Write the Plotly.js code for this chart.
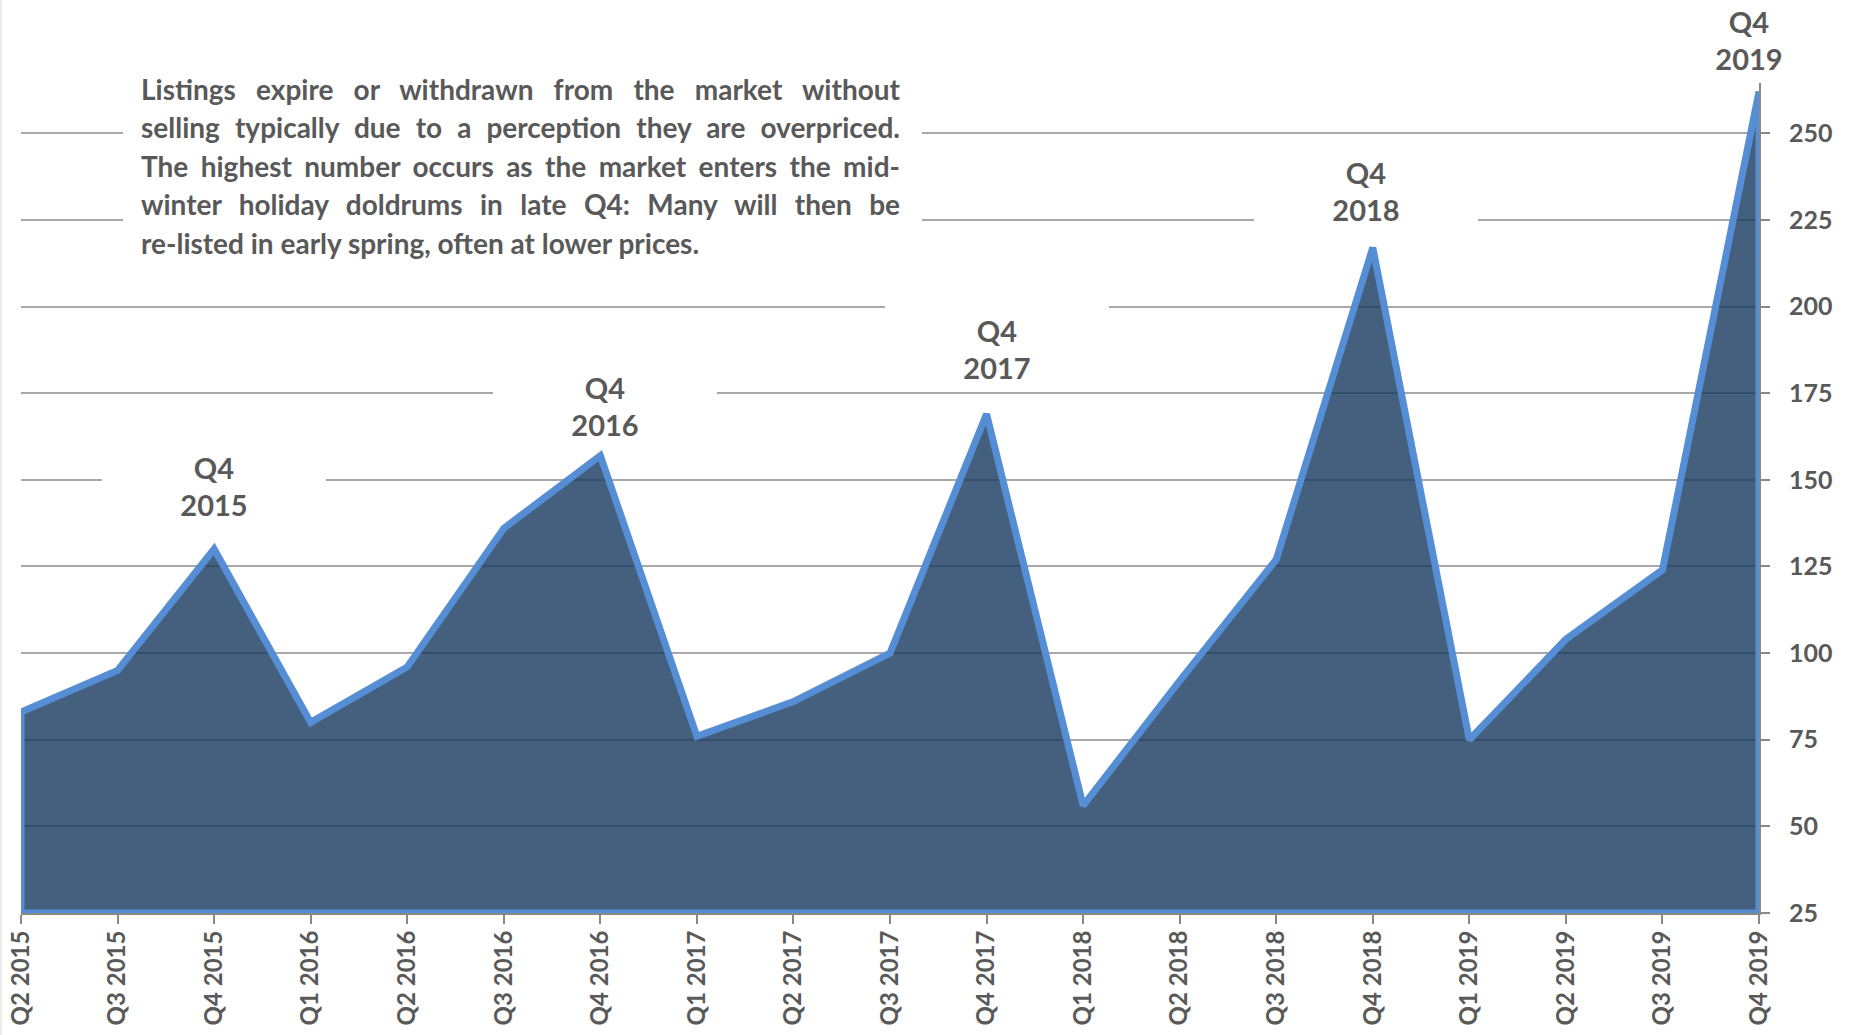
<!DOCTYPE html>
<html>
<head>
<meta charset="utf-8">
<script src="https://cdn.plot.ly/plotly-3.0.1.min.js"></script>
<style>
  html, body { margin: 0; padding: 0; background: #ffffff; }
  #chart { width: 1849px; height: 1035px; }
</style>
</head>
<body>
<div id="chart"></div>
<script>
// ---------- data ----------
const quarters = ['Q2 2015','Q3 2015','Q4 2015','Q1 2016','Q2 2016','Q3 2016','Q4 2016',
                  'Q1 2017','Q2 2017','Q3 2017','Q4 2017','Q1 2018','Q2 2018','Q3 2018',
                  'Q4 2018','Q1 2019','Q2 2019','Q3 2019','Q4 2019'];
const listings = [83, 95, 130, 80, 96, 136, 157, 76, 86, 100, 169, 56, 92, 127, 217, 75, 104, 124, 262];
const yTicks = [25, 50, 75, 100, 125, 150, 175, 200, 225, 250];
const peakLabels = ['Q4 2015','Q4 2016','Q4 2017','Q4 2018','Q4 2019'];
const noteLines = [
  'Listings expire or withdrawn from the market without',
  'selling typically due to a perception they are overpriced.',
  'The highest number occurs as the market enters the mid-',
  'winter holiday doldrums in late Q4: Many will then be',
  're-listed in early spring, often at lower prices.'
];

// ---------- style / geometry ----------
const FONT = 'Lato, "Open Sans", sans-serif';
const GRAY = '#595959';
const L = 21, R = 1759, T = 64, B = 913;
const yMin = 25, yMax = 270;
const px2x = p => (p - L) / (R - L);
const px2y = p => (B - p) / (B - T);
const labelShift = [63, 50, 65, 57, 52];
const labelDx = [0, 5, 10, -7, -10];
const noteCenters = [89, 127.5, 166, 204, 242.5];
const noteLeft = 141, noteWidth = 759;

// closed outline of the area (data + baseline at axis minimum)
const last = quarters.length - 1;
const polyX = quarters.concat([quarters[last], quarters[0], quarters[0]]);
const polyY = listings.concat([yMin, yMin, listings[0]]);

const traces = [{
  type: 'scatter',
  mode: 'lines',
  x: polyX,
  y: polyY,
  fill: 'toself',
  fillcolor: 'rgba(22,56,94,0.8)',
  line: { color: '#558ED5', width: 7 },
  hoverinfo: 'skip',
  showlegend: false
}];

const annotations = [];
peakLabels.forEach((q, i) => {
  const idx = quarters.indexOf(q);
  annotations.push({
    x: q, y: listings[idx], xref: 'x', yref: 'y',
    text: q.replace(' ', '<br>'),
    showarrow: false,
    xanchor: 'center', yanchor: 'middle',
    yshift: labelShift[i], xshift: labelDx[i],
    width: 224, height: 86,
    bgcolor: '#ffffff',
    borderpad: 0, borderwidth: 0,
    font: { family: FONT, size: 29, color: GRAY, weight: 700 }
  });
});
noteLines.forEach((t, i) => {
  annotations.push({
    x: px2x(noteLeft), y: px2y(noteCenters[i]), xref: 'paper', yref: 'paper',
    text: t, showarrow: false,
    xanchor: 'left', yanchor: 'middle', align: 'left',
    borderpad: 0, borderwidth: 0,
    font: { family: FONT, size: 28, color: GRAY, weight: 700 },
    name: 'note' + i
  });
});

const layout = {
  width: 1849, height: 1035,
  paper_bgcolor: '#ffffff', plot_bgcolor: '#ffffff',
  margin: { l: L, r: 1849 - R, t: T, b: 1035 - B, autoexpand: false },
  showlegend: false,
  xaxis: {
    type: 'category',
    categoryorder: 'array', categoryarray: quarters,
    range: [0, quarters.length - 1],
    showgrid: false, zeroline: false,
    showline: true, linecolor: '#888888', linewidth: 2,
    ticks: 'outside', ticklen: 9, tickwidth: 2, tickcolor: '#888888',
    tickangle: -90,
    ticklabelstandoff: -3,
    tickfont: { family: FONT, size: 24, color: GRAY, weight: 700 }
  },
  yaxis: {
    side: 'right',
    range: [yMin, yMax],
    tickmode: 'array', tickvals: yTicks, ticktext: yTicks.map(String),
    showgrid: true, gridcolor: '#a8a8a8', gridwidth: 2,
    zeroline: false,
    showline: true, linecolor: '#888888', linewidth: 2,
    ticks: 'outside', ticklen: 9, tickwidth: 2, tickcolor: '#888888',
    ticklabelstandoff: 14,
    tickfont: { family: FONT, size: 25, color: GRAY, weight: 700 }
  },
  shapes: [{
    type: 'rect', xref: 'paper', yref: 'paper', layer: 'above',
    x0: px2x(123), x1: px2x(922), y0: px2y(272), y1: px2y(48),
    fillcolor: '#ffffff', line: { width: 0 }
  }, {
    type: 'line', xref: 'paper', yref: 'paper', layer: 'above',
    x0: px2x(1), x1: px2x(1), y0: px2y(0), y1: px2y(1035),
    line: { color: '#e6e6e6', width: 1.5 }
  }],
  annotations: annotations
};

Plotly.newPlot('chart', traces, layout, { staticPlot: true }).then(gd => {
  // justify the note lines (all but the last) to the full text width
  const groups = gd.querySelectorAll('.annotation');
  groups.forEach(g => {
    const idx = +g.getAttribute('data-index');
    const noteIdx = idx - peakLabels.length;
    if (noteIdx < 0 || noteIdx >= noteLines.length - 1) return;
    const txt = g.querySelector('.annotation-text');
    if (!txt) return;
    const len = txt.getComputedTextLength();
    const spaces = (noteLines[noteIdx].match(/ /g) || []).length;
    if (spaces > 0) {
      txt.style.wordSpacing = ((noteWidth - len) / spaces) + 'px';
    }
  });
});
</script>
</body>
</html>
